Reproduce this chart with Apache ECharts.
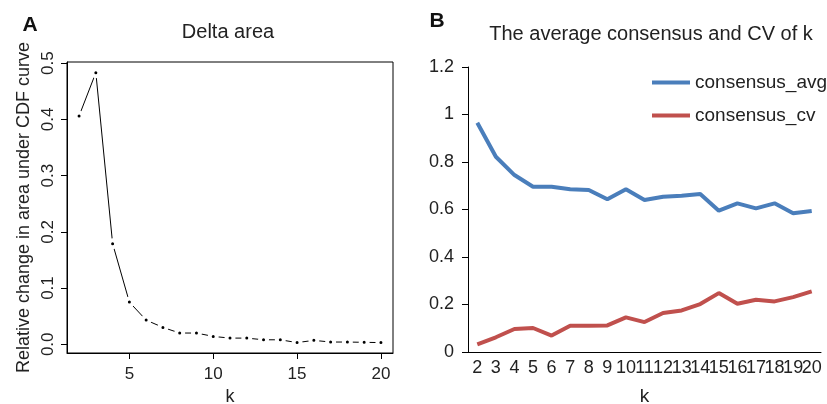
<!DOCTYPE html>
<html>
<head>
<meta charset="utf-8">
<script src="https://cdn.jsdelivr.net/npm/echarts@6/dist/echarts.min.js"></script>
<style>
  html, body { margin: 0; padding: 0; background: #fff; }
  #chart { width: 827px; height: 404px; }
</style>
</head>
<body>
<div id="chart"></div>
<script>
// k values shared by both panels
const kValues = [2, 3, 4, 5, 6, 7, 8, 9, 10, 11, 12, 13, 14, 15, 16, 17, 18, 19, 20]

// panel A: relative change in area under CDF curve
const deltaArea = [0.406, 0.483, 0.179, 0.075, 0.043, 0.030, 0.020, 0.020, 0.014, 0.011,
    0.011, 0.008, 0.008, 0.003, 0.007, 0.004, 0.004, 0.0035, 0.003]
const deltaXTicks = [5, 10, 15, 20]
const deltaYTicks = [0, 0.1, 0.2, 0.3, 0.4, 0.5]

// panel B: average consensus and CV
const consensusAvg = [0.965, 0.822, 0.745, 0.696, 0.696, 0.685, 0.682, 0.643, 0.685, 0.640,
    0.654, 0.658, 0.665, 0.595, 0.626, 0.605, 0.626, 0.584, 0.594]
const consensusCv = [0.032, 0.062, 0.097, 0.101, 0.069, 0.111, 0.111, 0.112, 0.146, 0.126,
    0.164, 0.175, 0.202, 0.248, 0.203, 0.220, 0.213, 0.231, 0.255]

const font = "'Liberation Sans', Arial, sans-serif"
const ink = '#222'

const chart = echarts.init(document.getElementById('chart'))

const option = {
    animation: false,
    textStyle: { fontFamily: font, color: ink },
    graphic: [
        { type: 'text', style: { x: 30, y: 25, text: 'A', font: 'bold 21px ' + font, fill: '#111', textAlign: 'center', textVerticalAlign: 'middle' } },
        { type: 'text', style: { x: 228, y: 32, text: 'Delta area', font: '20px ' + font, fill: ink, textAlign: 'center', textVerticalAlign: 'middle' } },
        { type: 'text', style: { x: 437, y: 21, text: 'B', font: 'bold 21px ' + font, fill: '#111', textAlign: 'center', textVerticalAlign: 'middle' } },
        { type: 'text', style: { x: 651, y: 34, text: 'The average consensus and CV of k', font: '20px ' + font, fill: ink, textAlign: 'center', textVerticalAlign: 'middle' } }
    ],
    legend: {
        orient: 'vertical',
        left: 652,
        top: 72,
        padding: 0,
        icon: 'rect',
        itemWidth: 38,
        itemHeight: 4,
        itemGap: 12,
        textStyle: { fontSize: 19, color: ink, fontFamily: font, lineHeight: 21 },
        data: ['consensus_avg', 'consensus_cv']
    },
    grid: [
        { left: 67, top: 62, width: 326, height: 291, outerBoundsMode: 'none', show: true, borderColor: '#000', borderWidth: 1, backgroundColor: 'transparent' },
        { left: 468, top: 67, width: 353, height: 285, outerBoundsMode: 'none' }
    ],
    xAxis: [
        {
            gridIndex: 0,
            type: 'value',
            min: 1.28,
            max: 20.72,
            name: 'k',
            nameLocation: 'middle',
            nameGap: 34,
            nameTextStyle: { fontSize: 18, color: ink },
            axisLine: { show: true, onZero: false, lineStyle: { color: '#000' } },
            axisTick: { show: true, length: 6, lineStyle: { color: '#000' }, customValues: deltaXTicks },
            axisLabel: { fontSize: 17, color: ink, margin: 13, customValues: deltaXTicks },
            splitLine: { show: false }
        },
        {
            gridIndex: 1,
            type: 'category',
            data: kValues.map(String),
            boundaryGap: true,
            name: 'k',
            nameLocation: 'middle',
            nameGap: 35,
            nameTextStyle: { fontSize: 19, color: ink },
            axisLine: { show: true, onZero: false, lineStyle: { color: '#000' } },
            axisTick: { show: false },
            axisLabel: { interval: 0, fontSize: 18, color: ink, margin: 7 },
            splitLine: { show: false }
        }
    ],
    yAxis: [
        {
            gridIndex: 0,
            type: 'value',
            min: -0.0155,
            max: 0.502,
            name: 'Relative change in area under CDF curve',
            nameLocation: 'middle',
            nameRotate: 90,
            nameGap: 34,
            nameTextStyle: { fontSize: 18, color: ink },
            axisLine: { show: true, onZero: false, lineStyle: { color: '#000' } },
            axisTick: { show: true, length: 6, lineStyle: { color: '#000' }, customValues: deltaYTicks },
            axisLabel: { fontSize: 17, color: ink, rotate: 90, margin: 10, customValues: deltaYTicks, formatter: (v) => v.toFixed(1) },
            splitLine: { show: false }
        },
        {
            gridIndex: 1,
            type: 'value',
            min: 0,
            max: 1.2,
            interval: 0.2,
            axisLine: { show: true, lineStyle: { color: '#000' } },
            axisTick: { show: true, length: 6, lineStyle: { color: '#000' } },
            axisLabel: { fontSize: 18, color: ink, margin: 14, formatter: (v) => String(+v.toFixed(1)) },
            splitLine: { show: false }
        }
    ],
    series: [
        {
            name: 'delta',
            type: 'line',
            xAxisIndex: 0,
            yAxisIndex: 0,
            data: kValues.map((k, i) => [k, deltaArea[i]]),
            lineStyle: { color: '#000', width: 1 },
            symbol: 'circle',
            symbolSize: 7,
            itemStyle: { color: '#000', borderColor: '#fff', borderWidth: 4 },
            z: 3
        },
        {
            name: 'consensus_avg',
            type: 'line',
            xAxisIndex: 1,
            yAxisIndex: 1,
            data: consensusAvg,
            symbol: 'none',
            color: '#4a7ebb',
            lineStyle: { color: '#4a7ebb', width: 4 }
        },
        {
            name: 'consensus_cv',
            type: 'line',
            xAxisIndex: 1,
            yAxisIndex: 1,
            data: consensusCv,
            symbol: 'none',
            color: '#c0504d',
            lineStyle: { color: '#c0504d', width: 4 }
        }
    ]
}

option && chart.setOption(option)
</script>
</body>
</html>
